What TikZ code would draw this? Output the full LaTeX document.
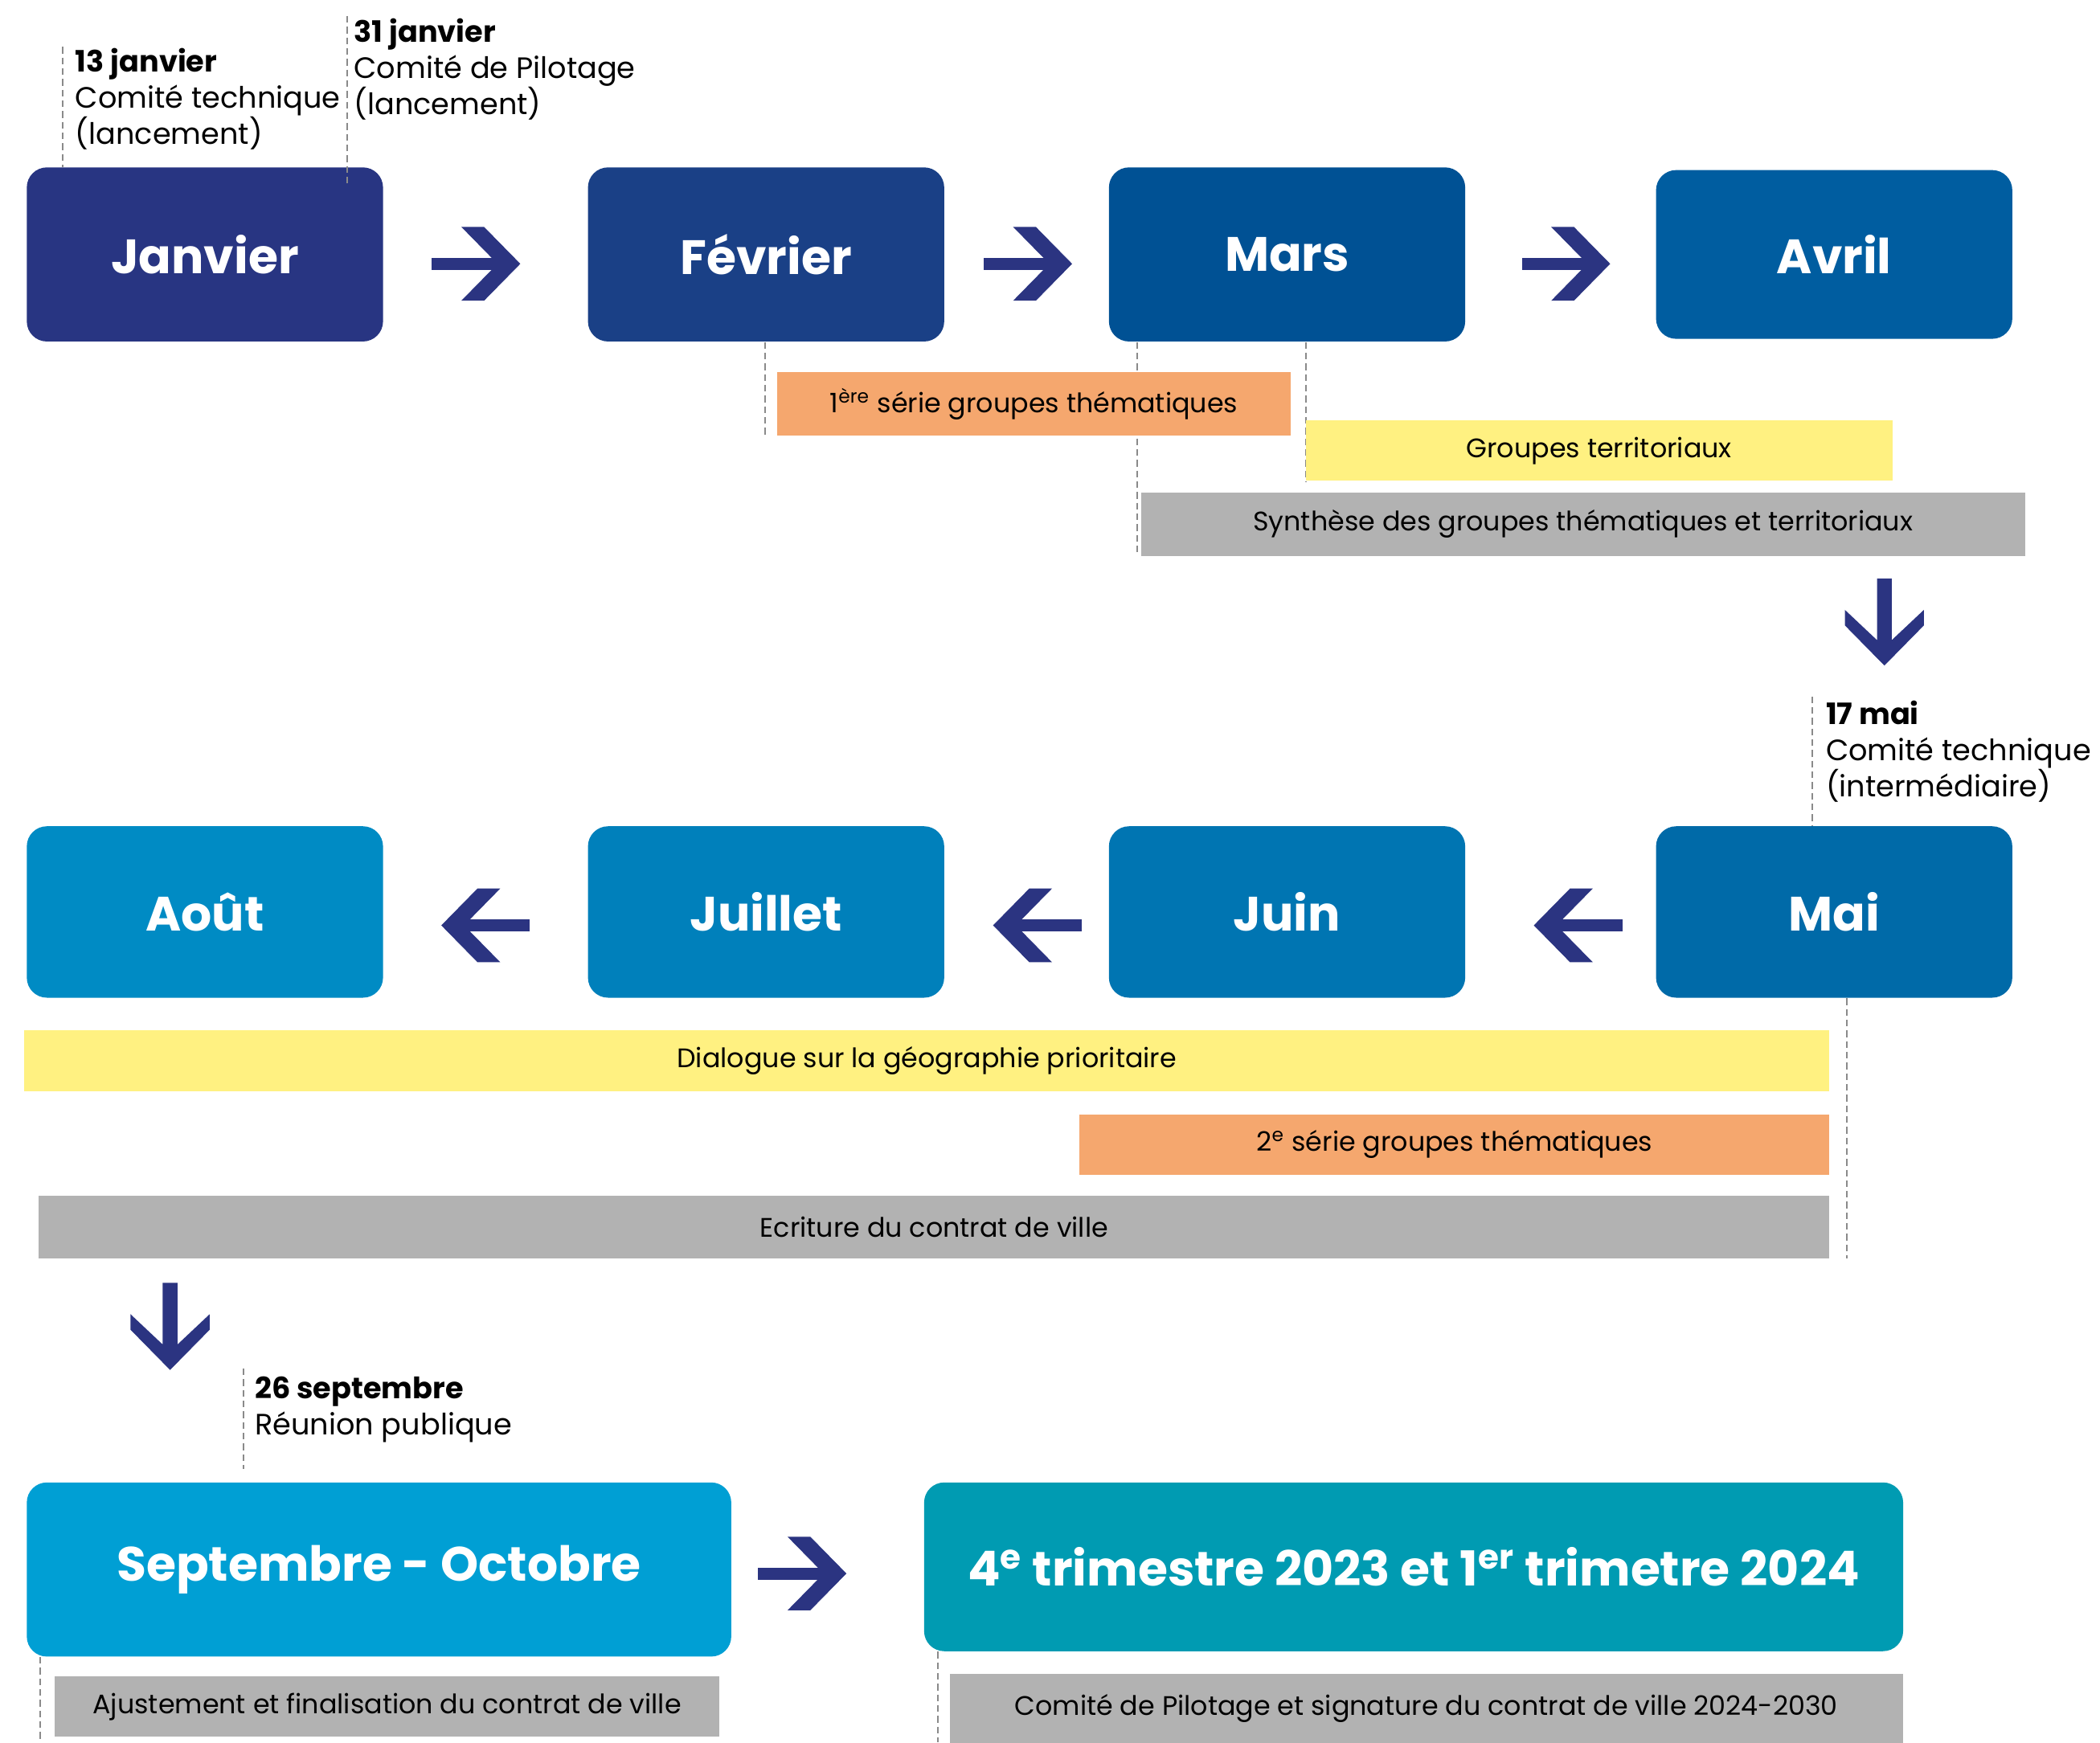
\documentclass[tikz,border=0pt]{standalone}
\usepackage{fontspec}
\setmainfont{Poppins}
\usetikzlibrary{calc}
\definecolor{cJan}{HTML}{283582}
\definecolor{cFev}{HTML}{1A4086}
\definecolor{cMar}{HTML}{005194}
\definecolor{cAvr}{HTML}{005DA0}
\definecolor{cMai}{HTML}{006AA8}
\definecolor{cJuin}{HTML}{0075B2}
\definecolor{cJuil}{HTML}{0080BB}
\definecolor{cAout}{HTML}{008BC4}
\definecolor{cSep}{HTML}{009FD4}
\definecolor{cTri}{HTML}{009BB2}
\definecolor{arrowc}{HTML}{2B3481}
\definecolor{cOrange}{HTML}{F5A76E}
\definecolor{cYellow}{HTML}{FFF181}
\definecolor{cGray}{HTML}{B2B2B2}
\definecolor{cGuide}{HTML}{8A8A8A}
\tikzset{
  month/.style={rounded corners=7.5pt, minimum width=133pt, minimum height=65pt, inner sep=0pt,
    text=white, font=\fontsize{18}{21}\selectfont\bfseries},
  bar/.style={minimum height=23pt, inner sep=0pt, text=black, font=\fontsize{10}{12}\selectfont},
  note/.style={align=left, anchor=west, inner sep=0pt, text=black, font=\fontsize{11}{13.5}\selectfont},
  guide/.style={draw=cGuide, line width=0.6pt, dash pattern=on 2.5pt off 1.5pt},
  pics/chevr/.style={code={
    \fill[arrowc] (-33,-4.5) rectangle (18,4.5);
    \fill[arrowc] (-11,-27.5) -- (6,-27.5) -- (33,0) -- (6,27.5) -- (-11,27.5) -- (16,0) -- cycle;}},
  pics/downarr/.style={code={
    \fill[arrowc] (-5.5,0) -- (5.5,0) -- (5.5,46) -- (29.5,23.4) -- (29.5,35) -- (0,65)
      -- (-29.5,35) -- (-29.5,23.4) -- (-5.5,46) -- cycle;}}
}
\begin{document}
\begin{tikzpicture}[x=0.5pt,y=-0.5pt]
\useasboundingbox[fill=white] (0,0) rectangle (1568,1301);

% ---- row 1
\node[month, fill=cJan] (jan) at (153,190) {Janvier};
\node[month, fill=cFev] (fev) at (572,190) {Février};
\node[month, fill=cMar] (mar) at (961,190) {Mars};
\node[month, fill=cAvr, minimum height=63pt] (avr) at (1369.5,190) {Avril};
\pic at ($(jan.east)!0.5!(fev.west)+(-7,7)$) {chevr};
\pic at ($(fev.east)!0.5!(mar.west)+(1,7)$) {chevr};
\pic at ($(mar.east)!0.5!(avr.west)+(4,7)$) {chevr};

% annotations row 1
\draw[guide] (47,35) -- (47,0 |- jan.north);
\node[note] (n1) at (56,74) {\textbf{13 janvier}\\Comité technique\\(lancement)};
\draw[guide] (259,12) -- (259,140);
\node[note] (n2) at (264,52) {\textbf{31 janvier}\\Comité de Pilotage\\(lancement)};

% bars row 1
\draw[guide] (571,0 |- fev.south) -- (571,325);
\draw[guide] (849,0 |- mar.south) -- (849,415);
\draw[guide] (975,0 |- mar.south) -- (975,360);
\node[bar, fill=cOrange, minimum width=192pt, minimum height=23.5pt] (s1) at (772,301.5) {1\textsuperscript{ère} série groupes thématiques};
\node[bar, fill=cYellow, minimum width=219pt, minimum height=22.5pt] (s2) at (1194,336.5) {Groupes territoriaux};
\node[bar, fill=cGray, minimum width=330pt, minimum height=23.5pt] (s3) at (1182,391.5) {Synthèse des groupes thématiques et territoriaux};

\pic at (1407,432) {downarr};

% ---- row 2
\node[month, fill=cAout, minimum height=64pt] (aou) at (153,681) {Août};
\node[month, fill=cJuil, minimum height=64pt] (jul) at (572,681) {Juillet};
\node[month, fill=cJuin, minimum height=64pt] (jun) at (961,681) {Juin};
\node[month, fill=cMai, minimum height=64pt] (mai) at (1369.5,681) {Mai};
\pic[xscale=-1] at ($(jul.east)!0.5!(jun.west)+(8,10)$) {chevr};
\pic[xscale=-1] at ($(aou.east)!0.5!(jul.west)+(0,10)$) {chevr};
\pic[xscale=-1] at ($(jun.east)!0.5!(mai.west)+(13,10)$) {chevr};

\draw[guide] (1353,520) -- (1353,0 |- mai.north);
\node[note] (n3) at (1363,561) {\textbf{17 mai}\\Comité technique\\(intermédiaire)};

\draw[guide] (1379,0 |- mai.south) -- (1379,940);
\node[bar, fill=cYellow, minimum width=674pt, minimum height=23pt] (s4) at (692,792) {Dialogue sur la géographie prioritaire};
\node[bar, fill=cOrange, minimum width=280pt, minimum height=22.5pt] (s5) at (1086,854.5) {2\textsuperscript{e} série groupes thématiques};
\node[bar, fill=cGray, minimum width=668.5pt, minimum height=23.5pt] (s6) at (697.5,916.5) {Ecriture du contrat de ville};

\pic at (127,958) {downarr};

% ---- row 3
\draw[guide] (182,1022) -- (182,1097);
\node[note] (n4) at (190,1052.5) {\textbf{26 septembre}\\Réunion publique};

\node[month, fill=cSep, minimum width=263pt, minimum height=65pt] (sep) at (283,1172) {Septembre - Octobre};
\node[month, fill=cTri, minimum width=365.5pt, minimum height=63pt] (tri) at (1055.5,1170) {4\textsuperscript{e} trimestre 2023 et 1\textsuperscript{er} trimetre 2024};
\pic at ($(sep.east)!0.5!(tri.west)+(-19,4)$) {chevr};

\draw[guide] (30,0 |- sep.south) -- (30,1301);
\draw[guide] (700,0 |- tri.south) -- (700,1301);
\node[bar, fill=cGray, minimum width=248pt, minimum height=22.5pt] (s7) at (289,1274.5) {Ajustement et finalisation du contrat de ville};
\node[bar, fill=cGray, minimum width=356pt, minimum height=26pt] (s8) at (1065,1276) {Comité de Pilotage et signature du contrat de ville 2024-2030};
\end{tikzpicture}
\end{document}
